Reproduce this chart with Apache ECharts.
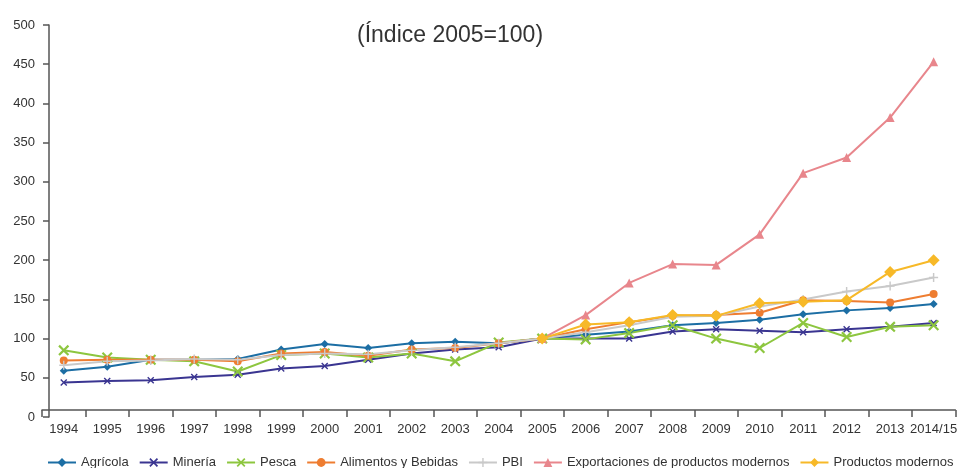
<!DOCTYPE html>
<html>
<head>
<meta charset="utf-8">
<script src="https://cdn.jsdelivr.net/npm/echarts@6/dist/echarts.min.js"></script>
<style>
html,body{margin:0;padding:0;background:#fff;}
#chart{width:960px;height:468px;}
</style>
</head>
<body>
<div id="chart"></div>
<script>
var years = ['1994','1995','1996','1997','1998','1999','2000','2001','2002','2003','2004','2005','2006','2007','2008','2009','2010','2011','2012','2013','2014/15'];
var yTicks = [0,50,100,150,200,250,300,350,400,450,500];
var titleText = '(Índice 2005=100)';

var agricola   = [59, 64, 73, 73, 74, 86, 93, 88, 94, 96, 94, 100, 105, 109, 117, 120, 124, 131, 136, 139, 144];
var mineria    = [44, 46, 47, 51, 54, 62, 65, 73, 81, 86, 89, 100, 100, 100, 109, 112, 110, 108, 112, 115, 120];
var pesca      = [85, 76, 73, 71, 58, 79, 81, 76, 81, 71, 95, 100, 99, 107, 117, 100, 88, 120, 102, 115, 117];
var alimentos  = [72, 73, 73, 73, 71, 81, 83, 78, 86, 88, 94, 100, 112, 121, 129, 130, 133, 149, 148, 146, 157];
var pbi        = [66, 71, 72, 74, 73, 79, 81, 80, 85, 89, 94, 100, 108, 117, 128, 129, 141, 150, 160, 167, 178];
var exportMod  = [null, null, null, null, null, null, null, null, null, null, null, 100, 130, 171, 195, 194, 233, 311, 331, 382, 453];
var prodMod    = [null, null, null, null, null, null, null, null, null, null, null, 100, 118, 121, 130, 129, 145, 147, 149, 185, 200];

var seriesNames = ['Agrícola','Minería','Pesca','Alimentos y Bebidas','PBI','Exportaciones de productos modernos','Productos modernos'];

var X_PATH = 'path://M0,1.4 L1.4,0 L5,3.6 L8.6,0 L10,1.4 L6.4,5 L10,8.6 L8.6,10 L5,6.4 L1.4,10 L0,8.6 L3.6,5 Z';
var PLUS_PATH = 'path://M4.2,0 H5.8 V4.2 H10 V5.8 H5.8 V10 H4.2 V5.8 H0 V4.2 H4.2 Z';

var FONT = "'Liberation Sans', Arial, sans-serif";

function mk(name, data, color, symbol, size, width) {
  return {
    name: name, type: 'line', data: data,
    symbol: symbol, symbolSize: size, showSymbol: true,
    connectNulls: false,
    lineStyle: {color: color, width: width || 2},
    itemStyle: {color: color},
    emphasis: {disabled: true},
    animation: false
  };
}

var chart = echarts.init(document.getElementById('chart'), null, {renderer: 'canvas'});
chart.setOption({
  backgroundColor: '#ffffff',
  animation: false,
  title: {
    text: titleText, left: 352, top: 19,
    textStyle: {fontFamily: FONT, fontSize: 23, fontWeight: 'normal', color: '#333'}
  },
  legend: {
    data: seriesNames, left: 42, top: 451, width: 1400,
    itemWidth: 28, itemHeight: 11, itemGap: 10,
    textStyle: {fontFamily: FONT, fontSize: 13, color: '#333'}
  },
  grid: {left: 42, right: 0, top: 25, bottom: 51, containLabel: false},
  xAxis: {
    type: 'category', data: years, boundaryGap: true, offset: -7,
    axisLine: {show: true, lineStyle: {color: '#555', width: 1.5}},
    axisTick: {show: true, length: 7, lineStyle: {color: '#555', width: 1.5}},
    axisLabel: {interval: 0, margin: 13, fontFamily: FONT, fontSize: 13, color: '#333'},
    splitLine: {show: false}
  },
  yAxis: {
    type: 'value', min: 0, max: 500, interval: 50, offset: -7,
    axisLine: {show: true, lineStyle: {color: '#555', width: 1.5}},
    axisTick: {show: true, length: 6, lineStyle: {color: '#555', width: 1.5}},
    axisLabel: {margin: 14, fontFamily: FONT, fontSize: 13, color: '#333',
      formatter: function (v) { return yTicks.indexOf(v) >= 0 ? String(v) : ''; }},
    splitLine: {show: false}
  },
  series: [
    mk(seriesNames[0], agricola, '#1c6ea4', 'diamond', 8),
    mk(seriesNames[1], mineria, '#3a3591', X_PATH, 7),
    mk(seriesNames[2], pesca, '#8dc63f', X_PATH, 11),
    mk(seriesNames[3], alimentos, '#ee7d31', 'circle', 8),
    mk(seriesNames[4], pbi, '#c9c9c9', PLUS_PATH, 9),
    mk(seriesNames[5], exportMod, '#e8868c', 'triangle', 9),
    mk(seriesNames[6], prodMod, '#f7b928', 'diamond', 12)
  ]
});
</script>
</body>
</html>
